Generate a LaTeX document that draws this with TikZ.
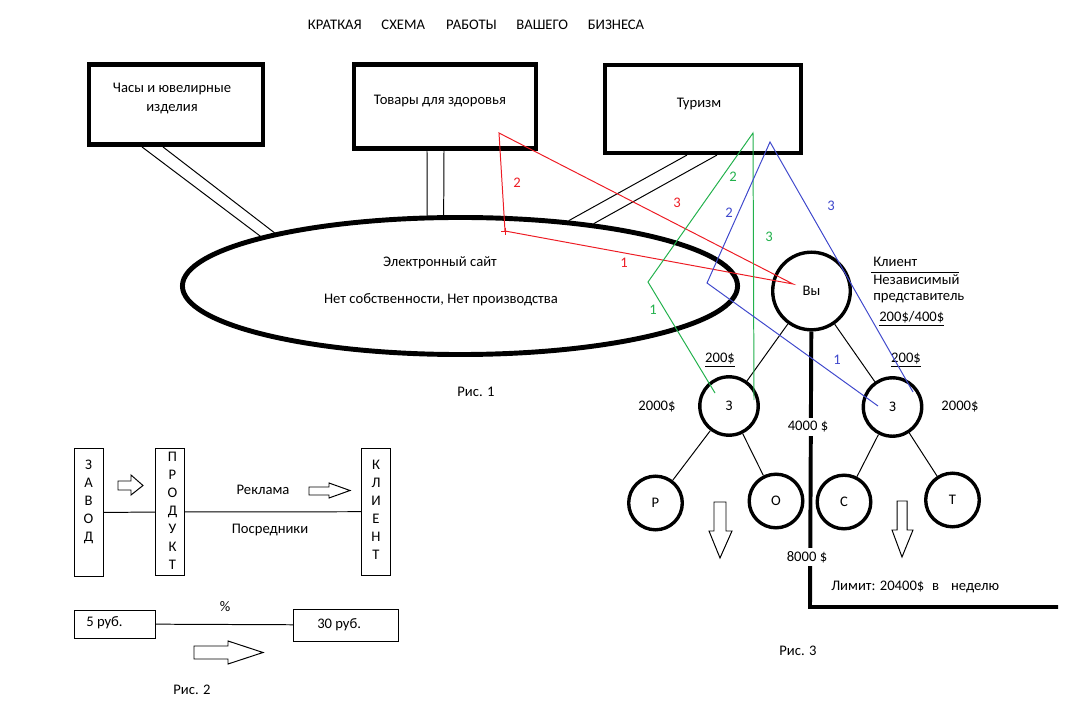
\documentclass[tikz,border=0pt]{standalone}
\usepackage{fontspec}
\setmainfont{Carlito}
\definecolor{paintred}{RGB}{237,28,36}
\definecolor{paintgreen}{RGB}{34,177,76}
\definecolor{paintblue}{RGB}{63,72,204}
\usepackage{tikz}
\usetikzlibrary{shapes.geometric, positioning}

\begin{document}
\begin{tikzpicture}[
  x=0.025cm, y=-0.025cm,
  every node/.style={font=\fontsize{10.4}{13.5}\selectfont, inner sep=0pt},
  catbox/.style={rectangle, draw, line width=3.2pt},
  ring/.style={circle, draw, line width=2.4pt},
  letterbox/.style={rectangle, draw, line width=0.7pt},
  letters/.style={align=center, font=\fontsize{10.4}{12.8}\selectfont},
  link/.style={line width=0.7pt},
  trunk/.style={line width=2.8pt},
  blk/.style={draw, line width=0.7pt, fill=white},
  redln/.style={paintred, line width=0.7pt},
  greenln/.style={paintgreen, line width=0.7pt},
  blueln/.style={paintblue, line width=0.7pt},
  sum/.style={fill=white, inner sep=2.5pt}
]
  \useasboundingbox (0,0) rectangle (1067,708);

  \node (title) at (476,25) {КРАТКАЯ\hspace{14pt}СХЕМА\hspace{15pt}РАБОТЫ\hspace{14pt}ВАШЕГО\hspace{14pt}БИЗНЕСА};

  % Рис. 1
  \node[catbox, minimum width=4.34cm, minimum height=2.01cm] (watch) at (176,104.5) {};
  \node[catbox, minimum width=4.54cm, minimum height=2.11cm] (health) at (445,106.5) {};
  \node[catbox, minimum width=4.89cm, minimum height=2.19cm] (tour) at (703,109) {};
  \node[align=center] at ([shift={(-4,-6)}]watch.center) {Часы и ювелирные\\изделия};
  \node at ([shift={(-5,-5.5)}]health.center) {Товары для здоровья};
  \node at ([shift={(-4,-5)}]tour.center) {Туризм};

  \node[ellipse, draw, line width=3.5pt, minimum width=13.875cm, minimum height=3.425cm] (site) at (460,286) {};
  \node (sitename) at (440,263) {Электронный сайт};
  \node (sitenote) at (441,300) {Нет собственности, Нет производства};

  \draw[link] ([shift={(-34,0)}]watch.south) -- (site.166);
  \draw[link] ([shift={(-13,0)}]watch.south) -- (site.164);
  \draw[link] ([shift={(-18,0)}]health.south) -- (site.115);
  \draw[link] ([shift={(-1,0)}]health.south) -- (site.103);
  \draw[link] ([shift={(-16,0)}]tour.south) -- (site.31);
  \draw[link] ([shift={(14,0)}]tour.south) -- (site.25);

  \node (fig1) at (476,392) {Рис. 1};

  % Рис. 3
  \node[ring, minimum size=1.94cm] (you) at (811.5,291) {Вы};
  \node[ring, minimum size=1.46cm] (zl) at (729,406) {З};
  \node[ring, minimum size=1.46cm] (zr) at (892.5,407) {З};
  \node[ring, minimum size=1.34cm] (pr) at (655.5,503) {Р};
  \node[ring, minimum size=1.34cm] (po) at (776,501) {О};
  \node[ring, minimum size=1.34cm] (pc) at (844,502) {С};
  \node[ring, minimum size=1.34cm] (pt) at (952.5,500) {Т};

  \draw[link] (you) -- (zl);
  \draw[link] (you) -- (zr);
  \draw[link] (zl) -- (pr);
  \draw[link] (zl) -- (po);
  \draw[link] (zr) -- (pc);
  \draw[link] (zr) -- (pt);

  \coordinate (corner) at (810,607);
  \coordinate (limend) at (1058,607);
  \draw[trunk] (you) -- (corner) -- (limend);
  \node[sum] (s4000) at (808,427) {4000 \$};
  \node[sum] (s8000) at (807,557) {8000 \$};
  \node[anchor=west] (limit) at (831,587) {Лимит: 20400\$\hspace{5.5pt}в\hspace{8.5pt}неделю};

  \node[anchor=west] (client) at (873,262) {Клиент};
  \draw[link] (871,272) -- (959,272);
  \node[anchor=west] (indep) at (873,280) {Независимый};
  \node[anchor=west] (rep) at (873,298) {представитель};
  \node[anchor=west] (fee) at (879,319) {\underline{200\$/400\$}};
  \node (bonusl) at (720,360) {\underline{200\$}};
  \node (bonusr) at (906,360) {\underline{200\$}};
  \node (levell) at (657,407) {2000\$};
  \node (levelr) at (960,407) {2000\$};

  \draw[blk] (714,502) -- (726,502) -- (726,531) -- (732,531) -- (720,558) -- (709,531) -- (714,531) -- cycle;
  \draw[blk] (897,501) -- (907,501) -- (907,530) -- (913,530) -- (902,557) -- (892,530) -- (897,530) -- cycle;

  \node (fig3) at (798,651) {Рис. 3};

  % coloured strokes
  \coordinate (rA) at (499,133);
  \coordinate (rB) at (505,231);
  \coordinate (rC) at (793,284);
  \draw[redln] (rA) -- (rB) -- (rC) -- cycle;
  \draw[redln] (rB) +(-4,0) -- +(4,0) (rB) +(0,-3) -- +(0,4);
  \node[text=paintred] at (517,183) {2};
  \node[text=paintred] at (677,203) {3};
  \node[text=paintred] at (624,263) {1};

  \coordinate (gA) at (753,133);
  \coordinate (gB) at (648,282);
  \coordinate (gC) at (715,393);
  \coordinate (gD) at (754,400);
  \draw[greenln] (gC) -- (gB) -- (gA) -- (gD);
  \node[text=paintgreen] at (733,177) {2};
  \node[text=paintgreen] at (769,237) {3};
  \node[text=paintgreen] at (653,310) {1};

  \coordinate (bA) at (770,142);
  \coordinate (bB) at (707,283);
  \coordinate (bC) at (878,406);
  \coordinate (bD) at (913,392);
  \draw[blueln] (bC) -- (bB) -- (bA) -- (bD);
  \node[text=paintblue] at (729,213) {2};
  \node[text=paintblue] at (831,206) {3};
  \node[text=paintblue] at (837,360) {1};

  % Рис. 2
  \node[letterbox, minimum width=0.725cm, minimum height=3.2cm] (factory) at (88.8,512.5) {};
  \node[letterbox, minimum width=0.715cm, minimum height=3.19cm] (product) at (170,512) {};
  \node[letterbox, minimum width=0.73cm, minimum height=3.17cm] (buyer) at (376.3,511.7) {};
  \node[letters] at (88.5,501.5) {З\\А\\В\\О\\Д};
  \node[letters] at (172.5,511) {П\\Р\\О\\Д\\У\\К\\Т};
  \node[letters] at (376,510) {К\\Л\\И\\Е\\Н\\Т};
  \draw[link] (factory) -- (product);
  \draw[link] (product) -- (buyer);
  \node (ads) at (263,490) {Реклама};
  \node (agents) at (270,530) {Посредники};
  \draw[blk] (118,481) -- (131,481) -- (131,475) -- (143,485.5) -- (131,495) -- (131,490) -- (118,490) -- cycle;
  \draw[blk] (309,487) -- (329,487) -- (329,483) -- (350,490.5) -- (329,498) -- (329,495) -- (309,495) -- cycle;

  \node[letterbox, minimum width=2cm, minimum height=0.7cm] (cost) at (115,624) {};
  \node[letterbox, minimum width=2.6cm, minimum height=0.8cm] (price) at (346,625) {};
  \node[anchor=west] at (86,623) {5 руб.};
  \node[anchor=west] at (317,625) {30 руб.};
  \draw[link] (cost) -- (price);
  \node (pct) at (225,607) {\%};
  \draw[blk] (194,646) -- (228,646) -- (228,641) -- (263,652.5) -- (228,664) -- (228,659) -- (194,659) -- cycle;

  \node (fig2) at (192,690) {Рис. 2};
\end{tikzpicture}
\end{document}
